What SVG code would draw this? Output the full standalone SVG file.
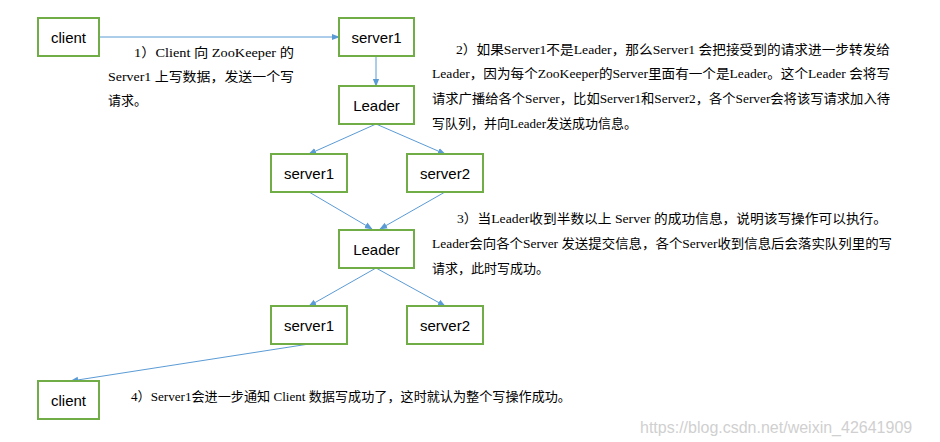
<svg xmlns="http://www.w3.org/2000/svg" width="940" height="442" viewBox="0 0 940 442">
<defs>
<marker id="a" viewBox="0 0 10 10" refX="9" refY="5" markerWidth="8" markerHeight="8" orient="auto"><path d="M0,1 L10,5 L0,9 z" fill="#5b9bd5"/></marker>
<style>
.n rect{fill:#fff;stroke:#70ad47;stroke-width:2}
.n text{font-family:"Liberation Sans",Arial,sans-serif;font-size:15px;text-anchor:middle;fill:#000}
.c line{stroke:#5b9bd5;stroke-width:1;marker-end:url(#a)}
.t{font-family:"Liberation Serif","Noto Sans CJK SC",serif;font-size:13px;fill:#000}
</style>
</defs>
<rect width="940" height="442" fill="#fff"/>
<g class="c">
<line x1="99" y1="37" x2="339" y2="37"/>
<line x1="376" y1="56" x2="376" y2="86"/>
<line x1="376" y1="124" x2="309" y2="154"/>
<line x1="376" y1="124" x2="445" y2="154"/>
<line x1="309" y1="192" x2="372" y2="229"/>
<line x1="445" y1="192" x2="380" y2="229"/>
<line x1="376" y1="268" x2="309" y2="306"/>
<line x1="376" y1="268" x2="445" y2="306"/>
<line x1="309" y1="344" x2="71" y2="381"/>
</g>
<g id="client1" class="n"><rect x="38" y="18" width="61" height="38"/><text x="68.5" y="43">client</text></g>
<g id="server1a" class="n"><rect x="339" y="18" width="75" height="38"/><text x="376.5" y="43">server1</text></g>
<g id="leader1" class="n"><rect x="339" y="86" width="75" height="38"/><text x="376.5" y="111">Leader</text></g>
<g id="server1b" class="n"><rect x="271" y="154" width="76" height="38"/><text x="309" y="179">server1</text></g>
<g id="server2b" class="n"><rect x="407" y="154" width="76" height="38"/><text x="445" y="179">server2</text></g>
<g id="leader2" class="n"><rect x="339" y="230" width="75" height="38"/><text x="376.5" y="255">Leader</text></g>
<g id="server1c" class="n"><rect x="271" y="306" width="76" height="38"/><text x="309" y="331">server1</text></g>
<g id="server2c" class="n"><rect x="407" y="306" width="76" height="38"/><text x="445" y="331">server2</text></g>
<g id="client2" class="n"><rect x="38" y="381" width="61" height="38"/><text x="68.5" y="406">client</text></g>
<g id="notes">
<text class="t" x="134" y="57" textLength="160" lengthAdjust="spacingAndGlyphs">1）Client 向 ZooKeeper 的</text>
<text class="t" x="108" y="81" textLength="186" lengthAdjust="spacingAndGlyphs">Server1 上写数据，发送一个写</text>
<text class="t" x="108" y="105">请求。</text>
<text class="t" x="456" y="54" textLength="434" lengthAdjust="spacingAndGlyphs">2）如果Server1不是Leader，那么Server1 会把接受到的请求进一步转发给</text>
<text class="t" x="432" y="78" textLength="458" lengthAdjust="spacingAndGlyphs">Leader，因为每个ZooKeeper的Server里面有一个是Leader。这个Leader 会将写</text>
<text class="t" x="432" y="103" textLength="458" lengthAdjust="spacingAndGlyphs">请求广播给各个Server，比如Server1和Server2，各个Server会将该写请求加入待</text>
<text class="t" x="432" y="128">写队列，并向Leader发送成功信息。</text>
<text class="t" x="457" y="223" textLength="430" lengthAdjust="spacingAndGlyphs">3）当Leader收到半数以上 Server 的成功信息，说明该写操作可以执行。</text>
<text class="t" x="432" y="248" textLength="460" lengthAdjust="spacingAndGlyphs">Leader会向各个Server 发送提交信息，各个Server收到信息后会落实队列里的写</text>
<text class="t" x="432" y="273">请求，此时写成功。</text>
<text class="t" x="131" y="401" textLength="440" lengthAdjust="spacingAndGlyphs">4）Server1会进一步通知 Client 数据写成功了，这时就认为整个写操作成功。</text>
</g>
<text x="640" y="433" font-family="'Liberation Sans',Arial,sans-serif" font-size="16" fill="#d0d0d0">https://blog.csdn.net/weixin_42641909</text>
</svg>
